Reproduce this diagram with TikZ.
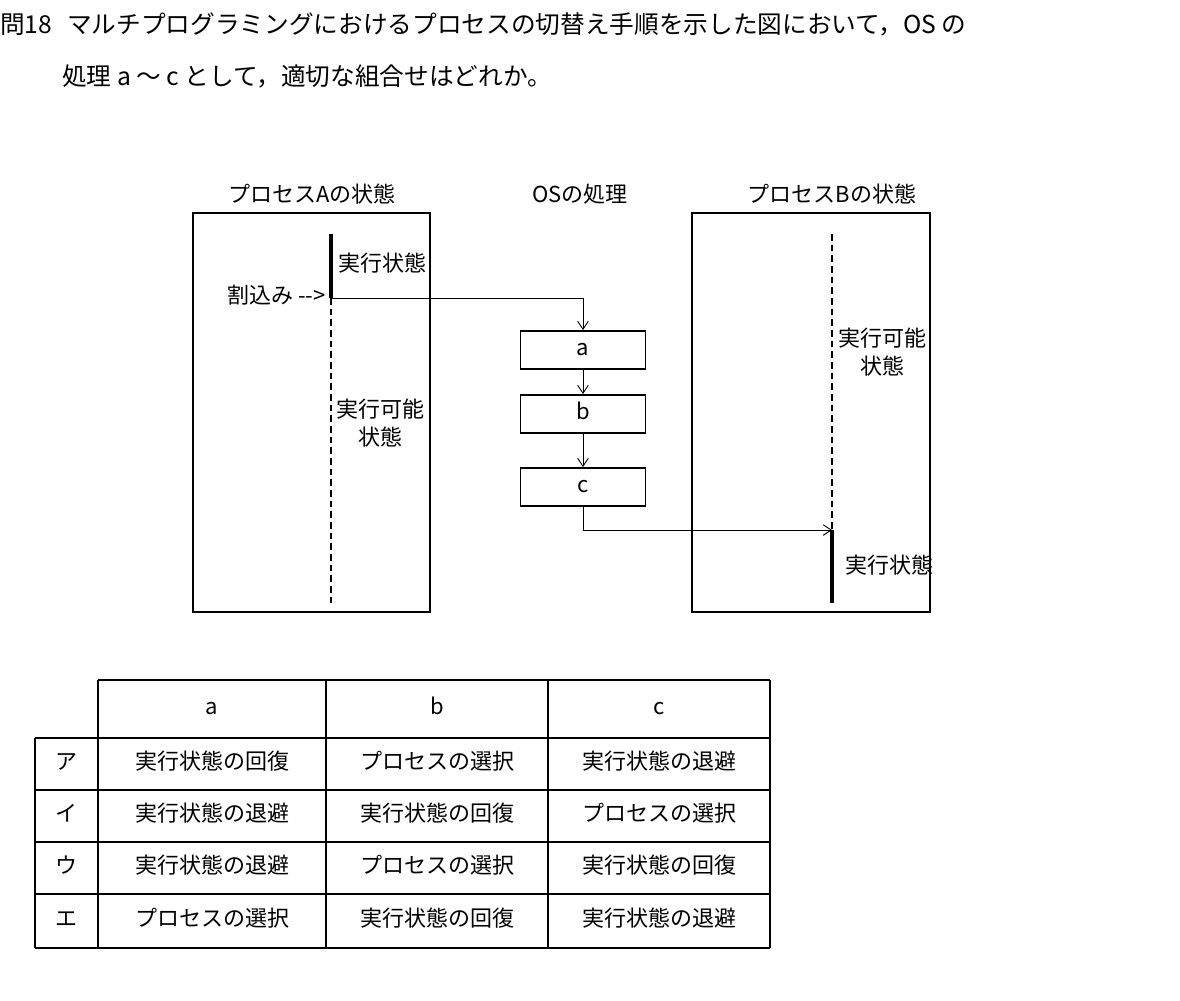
\documentclass[tikz,border=0pt]{standalone}
\usepackage{fontspec}
\usetikzlibrary{arrows.meta}
\setmainfont{Noto Sans CJK JP}
\begin{document}
\begin{tikzpicture}[x=0.75pt,y=-0.75pt,
  txt/.style={font=\fontsize{16.5}{21}\selectfont,inner sep=0pt,align=center,text height=0.85em,text depth=0.05em},
  ttl/.style={font=\fontsize{18.5}{22}\selectfont,inner sep=0pt,anchor=west},
  osbox/.style={draw,line width=1.4pt,minimum width=93.75pt,minimum height=28.5pt,font=\fontsize{16.5}{20}\selectfont,inner sep=0pt,text height=0.85em,text depth=0.05em},
  arr/.style={-{Straight Barb[length=6pt,width=8pt]},line width=0.7pt},
  dsh/.style={dash pattern=on 5pt off 3pt,line width=0.9pt},
  frame/.style={draw,line width=0.8pt}]
\useasboundingbox (0,0) rectangle (1180,1000);
\node[ttl] (t1) at (0,24) {問18\hspace{0.6em}マルチプログラミングにおけるプロセスの切替え手順を示した図において，OS の};
\node[ttl] (t2) at (62,76) {処理 a ～ c として，適切な組合せはどれか。};
% frames
\draw[frame] (193,213) rectangle (430,612);
\draw[frame] (692,213) rectangle (930,612);
\node[txt] (la) at (312,197) {プロセスAの状態};
\node[txt] (lo) at (580,197) {OSの処理};
\node[txt] (lb) at (832,197) {プロセスBの状態};
% process A
\coordinate (a0) at (331,234);
\coordinate (a1) at (331,298);
\coordinate (a2) at (331,605);
\draw[line width=3pt] (a0) -- (a1);
\draw[dsh] (a1) -- (a2);
\node[txt] (ra) at (382,266) {実行状態};
\node[txt] (wa) at (380,440) {実行可能\\状態};
\node[txt,anchor=east] (irq) at (326,298) {割込み -{}-{}>};
% OS boxes
\node[osbox] (ba) at (583,350) {a};
\node[osbox] (bb) at (583,414) {b};
\node[osbox] (bc) at (583,487) {c};
\draw[arr] (a1) -| (ba.north);
\draw[arr] (ba.south) -- (bb.north);
\draw[arr] (bb.south) -- (bc.north);
% process B
\coordinate (b0) at (832,234);
\coordinate (b1) at (832,530);
\coordinate (b2) at (832,603);
\draw[dsh] (b0) -- (b1);
\draw[line width=3pt] (b1) -- (b2);
\draw[arr] (bc.south) |- (b1);
\node[txt] (rb) at (882,369) {実行可能\\状態};
\node[txt] (eb) at (889,568) {実行状態};
% table
\draw[frame] (98,680) -- (770,680);
\draw[frame] (35,738) -- (770,738);
\foreach \y in {790,842,894,948} \draw[frame] (35,\y) -- (770,\y);
\draw[frame] (35,738) -- (35,948);
\foreach \x in {98,326,548,770} \draw[frame] (\x,680) -- (\x,948);
\node[txt] (ha) at (212,709) {a};
\node[txt] (hb) at (437,709) {b};
\node[txt] (hc) at (659,709) {c};
\def\R{実行状態の回復}\def\S{実行状態の退避}\def\P{プロセスの選択}
\node[txt] (r1) at (66,764) {ア};
\node[txt] (r1a) at (212,764) {\R};\node[txt] (r1b) at (437,764) {\P};\node[txt] (r1c) at (659,764) {\S};
\node[txt] (r2) at (66,816) {イ};
\node[txt] (r2a) at (212,816) {\S};\node[txt] (r2b) at (437,816) {\R};\node[txt] (r2c) at (659,816) {\P};
\node[txt] (r3) at (66,868) {ウ};
\node[txt] (r3a) at (212,868) {\S};\node[txt] (r3b) at (437,868) {\P};\node[txt] (r3c) at (659,868) {\R};
\node[txt] (r4) at (66,921) {エ};
\node[txt] (r4a) at (212,921) {\P};\node[txt] (r4b) at (437,921) {\R};\node[txt] (r4c) at (659,921) {\S};
\end{tikzpicture}
\end{document}
